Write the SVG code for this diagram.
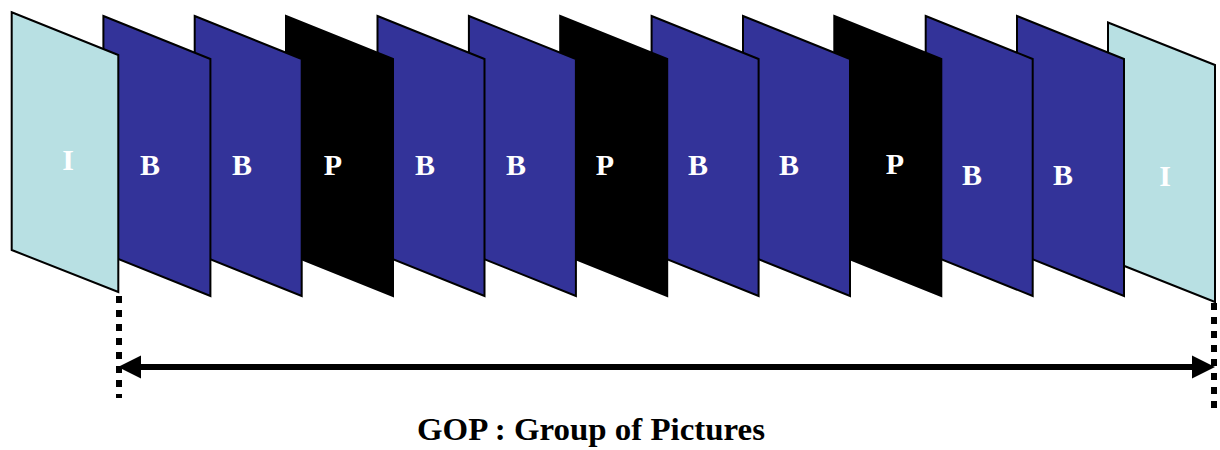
<svg xmlns="http://www.w3.org/2000/svg" width="1220" height="450" viewBox="0 0 1220 450">
<style>
.f{stroke:#000;stroke-width:2;stroke-linejoin:miter}
.i{fill:#b8e0e3}
.b{fill:#333399}
.p{fill:#000}
.l{font-family:"Liberation Serif","Times New Roman",serif;font-weight:bold;font-size:30px;fill:#fff;text-anchor:middle}
.dot{stroke:#000;stroke-width:6;stroke-dasharray:7 7;fill:none}
.cap{font-family:"Liberation Serif","Times New Roman",serif;font-weight:bold;font-size:31px;fill:#000}
</style>
<rect width="1220" height="450" fill="#fff"/>
<g id="frame13"><polygon class="f i" points="1108,22.5 1215,65 1215,302 1108,259.5"/><text class="l" x="1165" y="186">I</text></g>
<g id="frame12"><polygon class="f b" points="1017,16 1124,59 1124,296 1017,253"/><text class="l" x="1063" y="185">B</text></g>
<g id="frame11"><polygon class="f b" points="925.7,16 1032.7,59 1032.7,296 925.7,253"/><text class="l" x="972" y="185">B</text></g>
<g id="frame10"><polygon class="f p" points="834.3,16 941.3,59 941.3,296 834.3,253"/><text class="l" x="895" y="174">P</text></g>
<g id="frame9"><polygon class="f b" points="743,16 850,59 850,296 743,253"/><text class="l" x="789" y="175">B</text></g>
<g id="frame8"><polygon class="f b" points="651.6,16 758.6,59 758.6,296 651.6,253"/><text class="l" x="698" y="175">B</text></g>
<g id="frame7"><polygon class="f p" points="560.2,16 667.2,59 667.2,296 560.2,253"/><text class="l" x="605" y="175">P</text></g>
<g id="frame6"><polygon class="f b" points="468.9,16 575.9,59 575.9,296 468.9,253"/><text class="l" x="516" y="175">B</text></g>
<g id="frame5"><polygon class="f b" points="377.5,16 484.5,59 484.5,296 377.5,253"/><text class="l" x="425" y="175">B</text></g>
<g id="frame4"><polygon class="f p" points="286,16 393,59 393,296 286,253"/><text class="l" x="333" y="175">P</text></g>
<g id="frame3"><polygon class="f b" points="194.7,16 301.7,59 301.7,296 194.7,253"/><text class="l" x="242" y="175">B</text></g>
<g id="frame2"><polygon class="f b" points="103.4,16 210.4,59 210.4,296 103.4,253"/><text class="l" x="150" y="175">B</text></g>
<g id="frame1"><polygon class="f i" points="11.7,12.3 118.3,55 118.3,292 11.7,250"/><text class="l" x="68" y="170">I</text></g>
<g id="connectors">
<line class="dot" x1="119" y1="296" x2="119" y2="398"/>
<line class="dot" x1="1214" y1="303" x2="1214" y2="413"/>
<line x1="130" y1="367" x2="1203" y2="367" stroke="#000" stroke-width="6"/>
<polygon points="118,367 141,355.5 141,378.5" fill="#000"/>
<polygon points="1215,367 1192,355.5 1192,378.5" fill="#000"/>
</g>
<g id="caption"><text class="cap" x="417" y="440" textLength="348" lengthAdjust="spacingAndGlyphs">GOP : Group of Pictures</text></g>
</svg>
